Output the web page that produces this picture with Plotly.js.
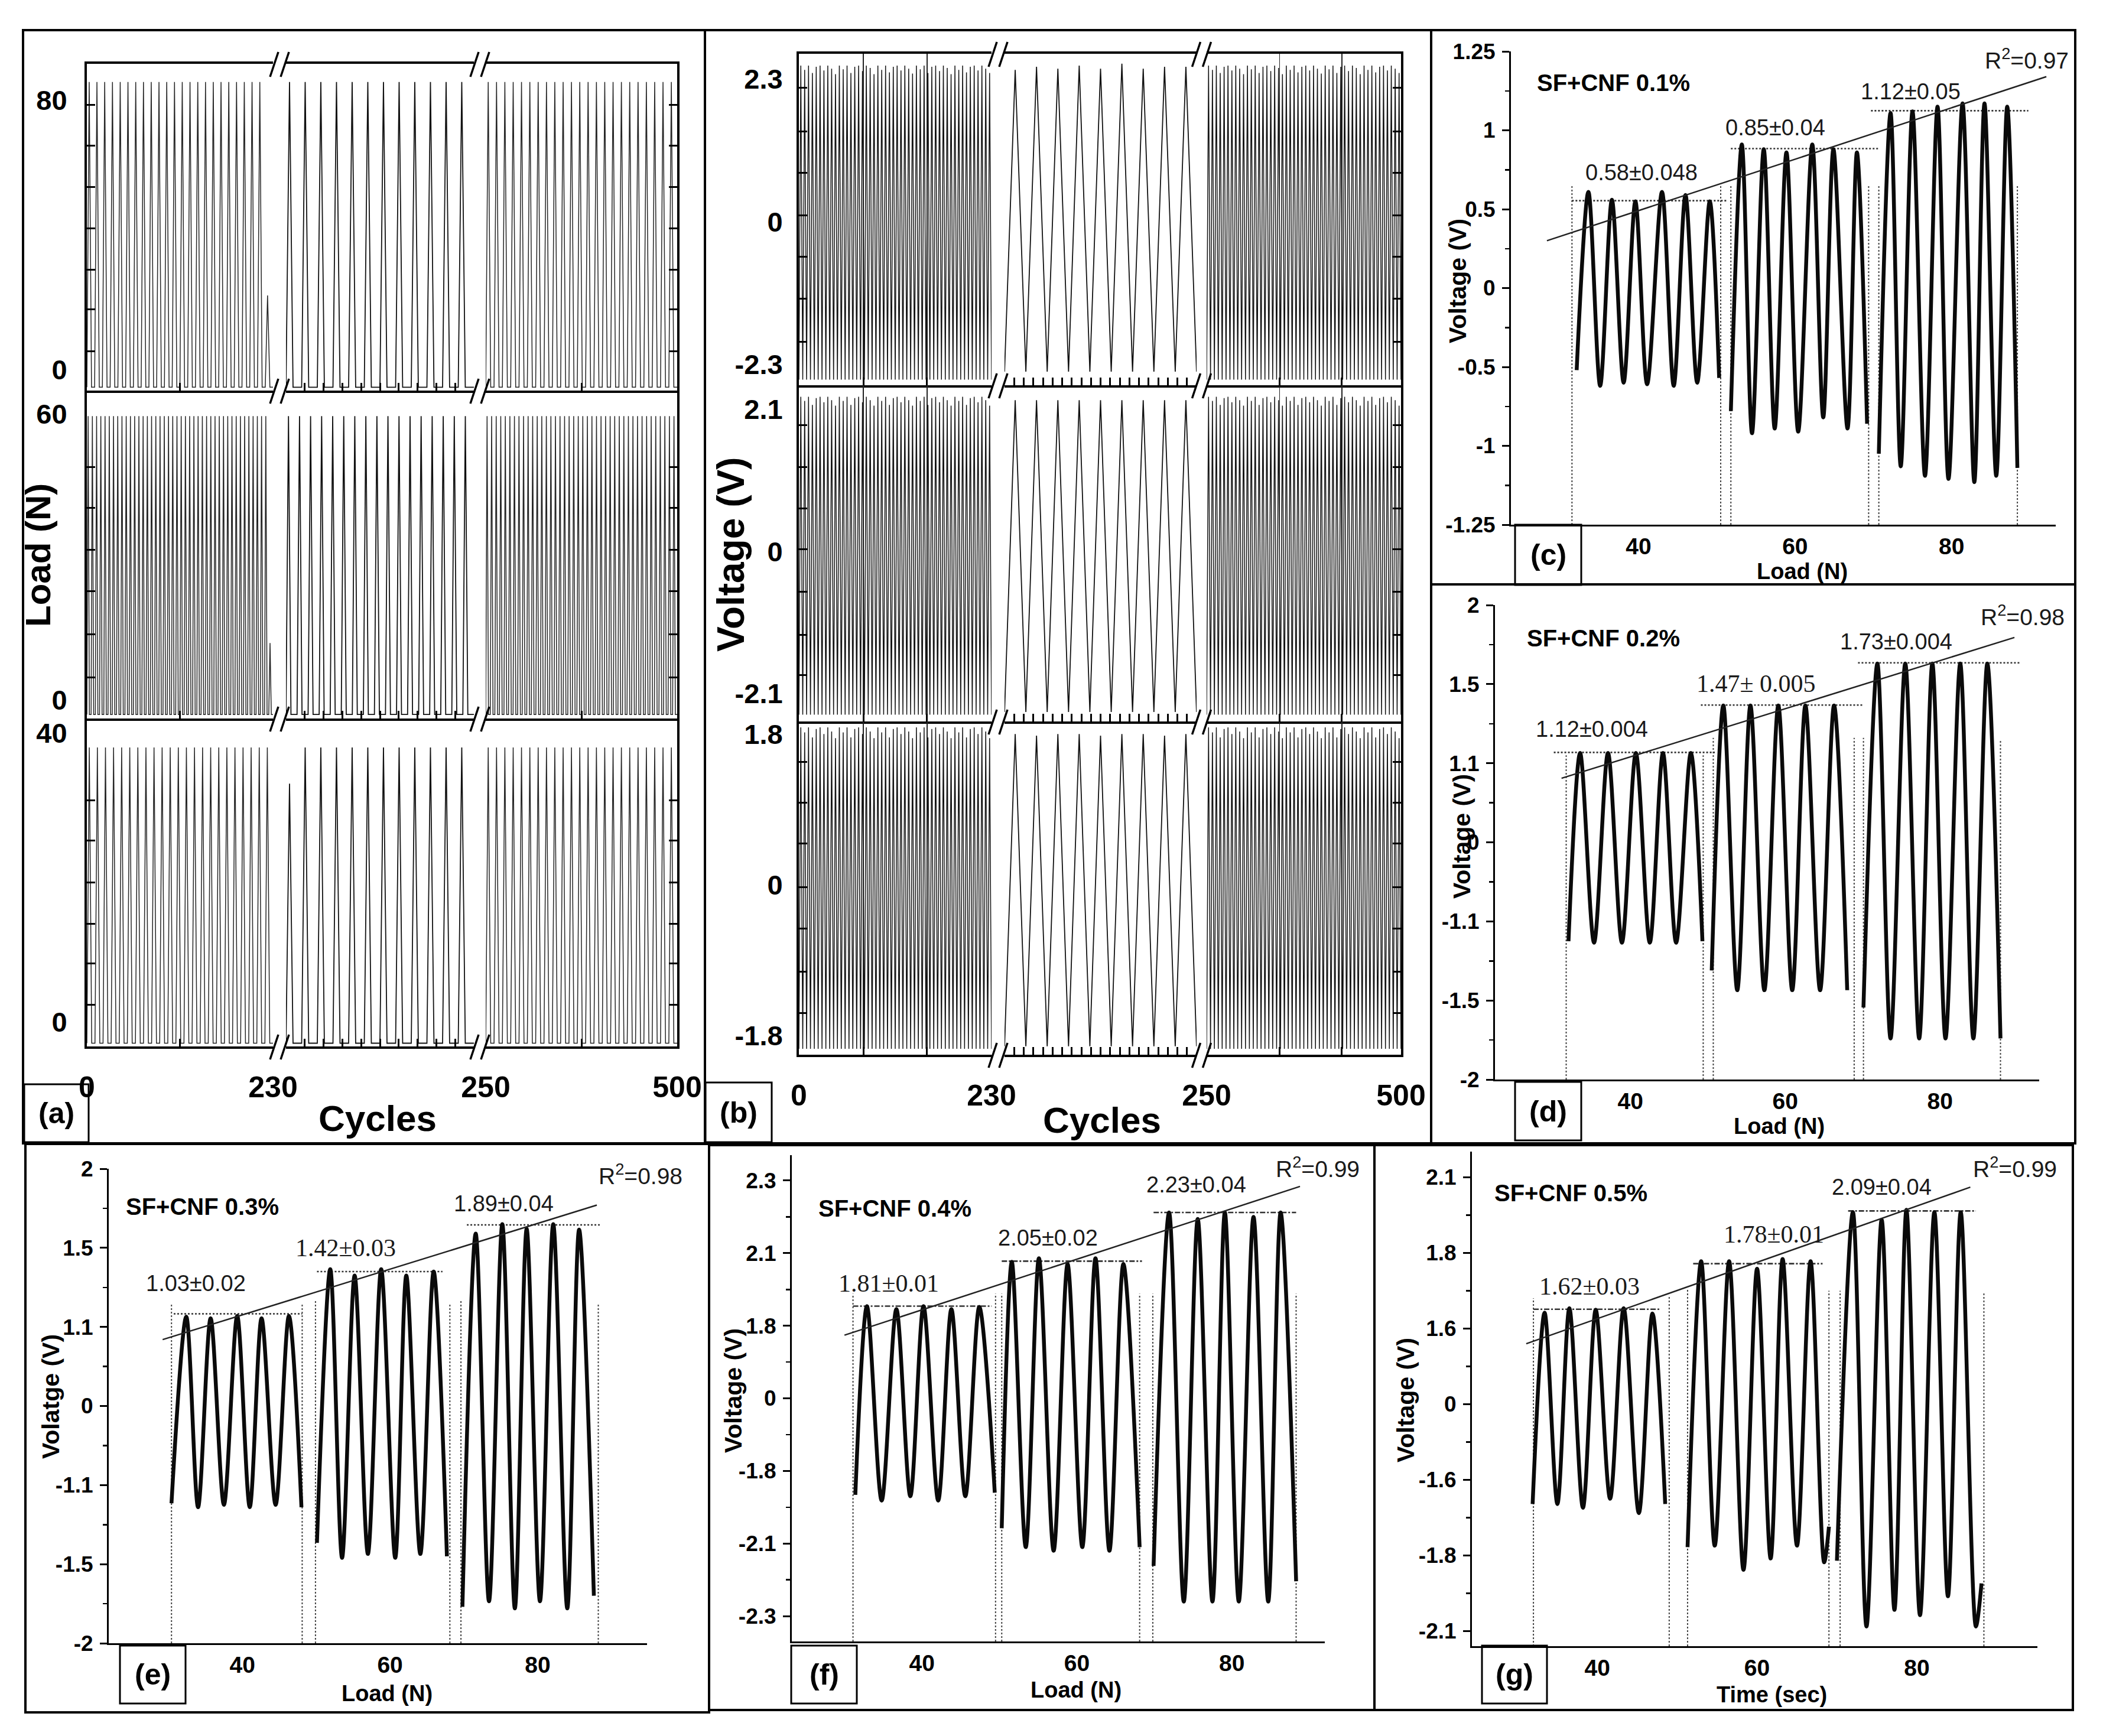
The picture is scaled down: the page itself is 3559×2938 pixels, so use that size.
<!DOCTYPE html>
<html>
<head>
<meta charset="utf-8">
<script src="https://cdn.plot.ly/plotly-3.0.1.min.js"></script>
<style>
  html, body { margin: 0; padding: 0; background: #fff; }
  #chart { width: 3559px; height: 2938px; }
</style>
</head>
<body>
<div id="chart"></div>
<script>
// ---------- (a) load pulses, peak of every pulse (N) ----------
const cycleSegments = [[0, 230], [230, 250], [250, 500]];
const cycleTicks = [[0, 230], [], [250, 500]];
const aLoadTicks = [80, 60, 40];

const a80Left = [85.5,85.5,85.5,85.5,85.5,85.5,85.5,85.5,85.5,85.5, 85.5,85.5,85.5,85.5,85.5,85.5,85.5,85.5,85.5,85.5,
                 85.5,85.5,85.5,22];
const a80Mid = [85.5,85.5,85.5,85.5,85.5,85.5,85.5,85.5,85.5,85.5,85.5,85.5];
const a80Right = [85.5,85.5,85.5,85.5,85.5,85.5,85.5,85.5,85.5,85.5, 85.5,85.5,85.5,85.5,85.5,85.5,85.5,85.5,85.5,85.5,
                  85.5,85.5,85.5];
const a60Left = [59.6,59.6,59.6,59.6,59.6,59.6,59.6,59.6,59.6,59.6, 59.6,59.6,59.6,59.6,59.6,59.6,59.6,59.6,59.6,59.6,
                 59.6,59.6,59.6,59.6,59.6,59.6,59.6,59.6,59.6,59.6, 59.6,59.6,59.6,59.6,59.6,59.6,59.6,59.6,59.6,59.6,
                 59.6,59.6,59.6,12];
const a60Mid = [59.6,59.6,59.6,59.6,59.6,59.6,59.6,59.6,59.6,59.6,59.6,59.6,59.6,59.6,59.6,59.6,59.6];
const a60Right = [59.6,59.6,59.6,59.6,59.6,59.6,59.6,59.6,59.6,59.6, 59.6,59.6,59.6,59.6,59.6,59.6,59.6,59.6,59.6,59.6,
                  59.6,59.6,59.6,59.6,59.6,59.6,59.6,59.6,59.6,59.6, 59.6,59.6,59.6,59.6,59.6,59.6,59.6,59.6,59.6,59.6,
                  59.6,59.6];
const a40Left = [38,38,38,38,38,38,38,38,38,38, 38,38,38,38,38,38,38,38,38,38, 38,38,38];
const a40Mid = [33,38,38,38,38,38,38,38,38,38,38,38];
const a40Right = [38,38,38,38,38,38,38,38,38,38, 38,38,38,38,38,38,38,38,38,38, 38,38,38];
const aTroughs = [-5.3, -3.0, -2.9];

// ---------- (b) voltage pulses (V) ----------
const bVoltTicks = [2.3, 2.1, 1.8];
const b23Left = [2.52,2.45,2.52,2.4,2.5,2.52,2.44,2.52,2.47,2.38, 2.52,2.46,2.52,2.4,2.5,2.52,2.43,2.52,2.48,2.38,
                 2.52,2.45,2.52,2.41,2.5,2.52,2.44,2.52,2.47,2.39, 2.52,2.46,2.52,2.4,2.5,2.52,2.43,2.52,2.48,2.38,
                 2.52,2.45,2.52,2.41,2.5,2.52,2.44,2.52,2.47,2.4];
const b23Mid = [2.45,2.5,2.47,2.52,2.47,2.55,2.47,2.5,2.5];
const b23Right = [2.52,2.45,2.52,2.4,2.5,2.52,2.44,2.52,2.47,2.38, 2.52,2.46,2.52,2.4,2.5,2.52,2.43,2.52,2.48,2.38,
                  2.52,2.45,2.52,2.41,2.5,2.52,2.44,2.52,2.47,2.39, 2.52,2.46,2.52,2.4,2.5,2.52,2.43,2.52,2.48,2.38,
                  2.52,2.45,2.52,2.41,2.5,2.52,2.44,2.52,2.47,2.4];
const b21Left = [2.28,2.22,2.28,2.16,2.26,2.28,2.2,2.28,2.23,2.15, 2.28,2.22,2.28,2.16,2.26,2.28,2.2,2.28,2.23,2.15,
                 2.28,2.22,2.28,2.16,2.26,2.28,2.2,2.28,2.23,2.15, 2.28,2.22,2.28,2.16,2.26,2.28,2.2,2.28,2.23,2.15,
                 2.28,2.22,2.28,2.16,2.26,2.28,2.2,2.28,2.23,2.15];
const b21Mid = [2.23,2.23,2.23,2.23,2.23,2.23,2.23,2.23,2.23];
const b21Right = [2.28,2.22,2.28,2.16,2.26,2.28,2.2,2.28,2.23,2.15, 2.28,2.22,2.28,2.16,2.26,2.28,2.2,2.28,2.23,2.15,
                  2.28,2.22,2.28,2.16,2.26,2.28,2.2,2.28,2.23,2.15, 2.28,2.22,2.28,2.16,2.26,2.28,2.2,2.28,2.23,2.15,
                  2.28,2.22,2.28,2.16,2.26,2.28,2.2,2.28,2.23,2.15];
const b18Left = [1.88,1.82,1.88,1.76,1.86,1.88,1.8,1.88,1.83,1.75, 1.88,1.82,1.88,1.76,1.86,1.88,1.8,1.88,1.83,1.75,
                 1.88,1.82,1.88,1.76,1.86,1.88,1.8,1.88,1.83,1.75, 1.88,1.82,1.88,1.76,1.86,1.88,1.8,1.88,1.83,1.75,
                 1.88,1.82,1.88,1.76,1.86,1.88,1.8,1.88,1.83,1.75];
const b18Mid = [1.8,1.78,1.8,1.8,1.78,1.8,1.8,1.78,1.8];
const b18Right = [1.88,1.82,1.88,1.76,1.86,1.88,1.8,1.88,1.83,1.75, 1.88,1.82,1.88,1.76,1.86,1.88,1.8,1.88,1.83,1.75,
                  1.88,1.82,1.88,1.76,1.86,1.88,1.8,1.88,1.83,1.75, 1.88,1.82,1.88,1.76,1.86,1.88,1.8,1.88,1.83,1.75,
                  1.88,1.82,1.88,1.76,1.86,1.88,1.8,1.88,1.83,1.75];
const b23Troughs = [-2.55, -2.42, -2.55];
const b21Troughs = [-2.41, -2.37, -2.41];
const b18Troughs = [-1.96, -1.93, -1.96];

// ---------- (c)-(g) voltage vs load, three load groups ----------
const loadTicks = [40, 60, 80];

const c1X = [32.1, 33.6, 35.1, 36.6, 38.1, 39.6, 41.1, 43.0, 44.5, 46.0, 47.5, 49.1, 50.3];
const c1Y = [-0.52, 0.61, -0.62, 0.56, -0.60, 0.55, -0.61, 0.61, -0.62, 0.59, -0.60, 0.55, -0.57];
const c2X = [51.8, 53.2, 54.5, 56.0, 57.4, 58.9, 60.4, 62.2, 63.6, 64.9, 66.7, 67.9, 69.2];
const c2Y = [-0.78, 0.91, -0.92, 0.88, -0.89, 0.86, -0.91, 0.91, -0.82, 0.88, -0.89, 0.86, -0.86];
const c3X = [70.7, 72.2, 73.5, 75.0, 76.6, 78.2, 79.6, 81.4, 82.9, 84.2, 85.7, 87.1, 88.4];
const c3Y = [-1.05, 1.11, -1.13, 1.12, -1.19, 1.15, -1.21, 1.17, -1.23, 1.17, -1.19, 1.15, -1.14];
const cFitX = [28.3, 92.1], cFitY = [0.30, 1.34];
const cMeanY = [0.554, 0.884, 1.124], cMeanX0 = [31.5, 51.8, 69.7], cMeanX1 = [51.4, 70.6, 89.8];
const cEdgeX = [31.5, 50.5, 51.8, 69.4, 70.7, 88.4], cEdgeTop = [0.65, 0.65, 0.65, 0.65, 0.65, 0.65];
const cNotes = ['0.58±0.048', '0.85±0.04', '1.12±0.05'];
const cNoteX = [40.4, 57.5, 74.8], cNoteY = [0.734, 1.015, 1.247];
const cTickText = ['-1.25', '-1', '-0.5', '0', '0.5', '1', '1.25'];

const d1X = [32.0, 33.5, 35.3, 37.1, 38.9, 40.7, 42.5, 44.2, 45.9, 47.8, 49.3];
const d1Y = [-1.25, 1.13, -1.27, 1.13, -1.27, 1.13, -1.27, 1.13, -1.27, 1.13, -1.25];
const d2X = [50.5, 52.0, 53.8, 55.5, 57.3, 59.1, 60.9, 62.6, 64.5, 66.3, 68.0];
const d2Y = [-1.62, 1.73, -1.87, 1.73, -1.87, 1.73, -1.87, 1.73, -1.87, 1.73, -1.87];
const d3X = [70.1, 71.9, 73.6, 75.5, 77.3, 79.0, 80.7, 82.6, 84.3, 86.1, 87.8];
const d3Y = [-2.09, 2.26, -2.48, 2.26, -2.48, 2.26, -2.48, 2.26, -2.48, 2.26, -2.48];
const dFitX = [31.1, 89.6], dFitY = [0.81, 2.59];
const dMeanY = [1.137, 1.735, 2.27], dMeanX0 = [30.1, 49.1, 69.4], dMeanX1 = [50.9, 70.0, 90.3];
const dEdgeX = [31.7, 49.4, 50.7, 68.9, 70.1, 87.8], dEdgeTop = [1.1, 1.1, 1.32, 1.32, 1.32, 1.3];
const dNotes = ['1.12±0.004', '1.47± 0.005', '1.73±0.004'];
const dNoteX = [35.0, 56.2, 74.3], dNoteY = [1.43, 2.01, 2.54];
const dTickText = ['-2', '-1.5', '-1.1', '0', '1.1', '1.5', '2'];

const e1X = [30.4, 32.4, 34.0, 35.7, 37.5, 39.3, 41.0, 42.6, 44.5, 46.3, 48.0];
const e1Y = [-1.23, 1.13, -1.28, 1.11, -1.25, 1.14, -1.28, 1.11, -1.25, 1.14, -1.28];
const e2X = [50.1, 51.9, 53.5, 55.2, 57.0, 58.8, 60.7, 62.2, 64.1, 65.9, 67.7];
const e2Y = [-1.73, 1.73, -1.92, 1.65, -1.87, 1.73, -1.92, 1.65, -1.87, 1.70, -1.90];
const e3X = [69.8, 71.6, 73.4, 75.2, 76.9, 78.5, 80.3, 82.1, 84.0, 85.6, 87.6];
const e3Y = [-2.54, 2.18, -2.47, 2.30, -2.56, 2.24, -2.47, 2.30, -2.56, 2.23, -2.40];
const eFitX = [29.2, 88.0], eFitY = [0.84, 2.54];
const eMeanY = [1.166, 1.70, 2.29], eMeanX0 = [30.7, 50.1, 70.4], eMeanX1 = [48.1, 67.1, 88.4];
const eEdgeX = [30.4, 48.1, 49.9, 68.1, 69.6, 88.2], eEdgeTop = [1.3, 1.3, 1.33, 1.3, 1.33, 1.3];
const eNotes = ['1.03±0.02', '1.42±0.03', '1.89±0.04'];
const eNoteX = [33.7, 54.0, 75.4], eNoteY = [1.55, 2.0, 2.56];
const eTickText = ['-2', '-1.5', '-1.1', '0', '1.1', '1.5', '2'];

const f1X = [31.4, 32.9, 34.8, 36.7, 38.5, 40.2, 42.1, 43.8, 45.6, 47.4, 49.4];
const f1Y = [-1.33, 1.27, -1.41, 1.23, -1.35, 1.27, -1.41, 1.23, -1.35, 1.26, -1.30];
const f2X = [50.3, 51.6, 53.4, 55.1, 57.0, 58.8, 60.7, 62.4, 64.2, 66.0, 68.1];
const f2Y = [-1.79, 1.88, -2.05, 1.93, -2.10, 1.85, -2.05, 1.93, -2.10, 1.85, -2.05];
const f3X = [69.9, 71.9, 73.8, 75.6, 77.5, 79.1, 80.9, 82.8, 84.7, 86.3, 88.3];
const f3Y = [-2.31, 2.56, -2.80, 2.47, -2.80, 2.56, -2.80, 2.50, -2.80, 2.56, -2.52];
const fFitX = [30.0, 88.8], fFitY = [0.87, 2.92];
const fMeanY = [1.27, 1.89, 2.56], fMeanX0 = [31.1, 50.3, 69.9], fMeanX1 = [49.0, 68.4, 88.3];
const fEdgeX = [31.1, 49.5, 50.3, 68.1, 69.8, 88.3], fEdgeTop = [1.44, 1.44, 1.44, 1.44, 1.44, 1.44];
const fNotes = ['1.81±0.01', '2.05±0.02', '2.23±0.04'];
const fNoteX = [35.7, 56.3, 75.4], fNoteY = [1.58, 2.21, 2.94];
const fTickText = ['-2.3', '-2.1', '-1.8', '0', '1.8', '2.1', '2.3'];

const g1X = [31.9, 33.4, 35.0, 36.5, 38.2, 39.8, 41.6, 43.3, 45.2, 46.9, 48.5];
const g1Y = [-1.32, 1.21, -1.32, 1.27, -1.37, 1.25, -1.25, 1.27, -1.44, 1.20, -1.32];
const g2X = [51.3, 53.0, 54.7, 56.5, 58.3, 60.0, 61.7, 63.2, 65.0, 66.7, 68.4, 69.0];
const g2Y = [-1.89, 1.89, -1.87, 1.89, -2.19, 1.79, -2.04, 1.92, -1.87, 1.89, -2.09, -1.62];
const g3X = [70.0, 72.0, 73.7, 75.6, 77.2, 78.7, 80.4, 82.2, 83.9, 85.5, 87.4, 88.1];
const g3Y = [-2.07, 2.54, -2.94, 2.44, -2.72, 2.57, -2.79, 2.54, -2.54, 2.54, -2.94, -2.37];
const gFitX = [31.1, 86.7], gFitY = [0.80, 2.87];
const gMeanY = [1.256, 1.858, 2.556], gMeanX0 = [32.0, 52.0, 71.4], gMeanX1 = [47.9, 68.2, 87.4];
const gEdgeX = [32.0, 49.0, 51.3, 69.0, 70.4, 88.4], gEdgeTop = [1.40, 1.43, 1.52, 1.50, 1.50, 1.47];
const gNotes = ['1.62±0.03', '1.78±0.01', '2.09±0.04'];
const gNoteX = [39.0, 62.1, 75.6], gNoteY = [1.56, 2.25, 2.875];
const gTickText = ['-2.1', '-1.8', '-1.6', '0', '1.6', '1.8', '2.1'];

// ---------- page geometry ----------
const W = 3559, H = 2938;
const px = v => v / W;
const py = v => 1 - v / H;
const SANS = 'Liberation Sans, Arial, Helvetica, sans-serif';
const SERIF = 'Liberation Serif, Times New Roman, serif';
const INK = '#000';

const traces = [];
const layout = {
  width: W, height: H,
  margin: {l: 0, r: 0, t: 0, b: 0},
  paper_bgcolor: '#fff', plot_bgcolor: 'rgba(0,0,0,0)',
  showlegend: false,
  shapes: [], annotations: []
};

let nAx = 0;
function addCell(xa, ya) {
  nAx++;
  const k = nAx === 1 ? '' : String(nAx);
  layout['xaxis' + k] = Object.assign({anchor: 'y' + k, zeroline: false, showgrid: false, fixedrange: true}, xa);
  layout['yaxis' + k] = Object.assign({anchor: 'x' + k, zeroline: false, showgrid: false, fixedrange: true}, ya);
  return {x: 'x' + k, y: 'y' + k};
}

function text(str, x, y, size, opts) {
  layout.annotations.push(Object.assign({
    text: str, x: px(x), y: py(y), xref: 'paper', yref: 'paper',
    showarrow: false, xanchor: 'center', yanchor: 'middle',
    font: {family: SANS, size: size, color: INK}
  }, opts || {}));
}
function box(x0, y0, x1, y1, w) {
  layout.shapes.push({type: 'rect', xref: 'paper', yref: 'paper',
    x0: px(x0), x1: px(x1), y0: py(y1), y1: py(y0), line: {color: INK, width: w || 3}});
}

// pulse train: each pulse rises to its peak and falls back within `duty` of its slot
function pulseTrain(seg, peaks, trough, duty) {
  const step = (seg[1] - seg[0]) / peaks.length;
  const xs = [], ys = [];
  peaks.forEach((p, i) => {
    const x0 = seg[0] + i * step;
    xs.push(x0, x0 + duty * step / 2);
    ys.push(trough, p);
    if (duty < 1) { xs.push(x0 + duty * step); ys.push(trough); }
  });
  xs.push(seg[1]); ys.push(trough);
  return {xs, ys};
}

// ---------- broken-axis panels (a) and (b) ----------
function brokenPanel(p) {
  p.rows.forEach((row, r) => {
    const last = r === p.rows.length - 1;
    p.segPx.forEach((seg, s) => {
      const hasX = last && cycleTicks[s].length > 0;
      const cell = addCell({
        domain: [px(seg[0]), px(seg[1])],
        range: cycleSegments[s],
        showline: true, linecolor: INK, linewidth: 4,
        mirror: r === 0,
        ticks: '', tickmode: 'array', tickvals: cycleTicks[s], ticktext: cycleTicks[s].map(String),
        showticklabels: hasX,
        tickfont: {family: SANS, size: 50, color: INK, weight: 'bold'},
        ticklabelstandoff: 22,
        minor: {tickmode: 'array', tickvals: p.xMinor[s], ticks: 'inside', ticklen: 13, tickwidth: 3, tickcolor: INK,
                showgrid: !!p.xGrid[s], gridcolor: '#222', gridwidth: 1.6}
      }, {
        domain: [py(p.rowPx[r][1]), py(p.rowPx[r][0])],
        range: row.range,
        showline: s !== 1, linecolor: INK, linewidth: 4,
        side: s === 2 ? 'right' : 'left',
        ticks: '', tickmode: 'array', tickvals: row.ticks, ticktext: row.tickText,
        showticklabels: s === 0,
        tickfont: {family: SANS, size: 47, color: INK, weight: 'bold'},
        ticklabelstandoff: p.yStandoff,
        minor: s === 1 ? {ticks: ''} :
          {tickmode: 'array', tickvals: row.minor, ticks: 'inside', ticklen: 14, tickwidth: 3, tickcolor: INK}
      });
      const w = pulseTrain(cycleSegments[s], row.peaks[s], row.troughs[s], p.duty[s]);
      traces.push({x: w.xs, y: w.ys, xaxis: cell.x, yaxis: cell.y, type: 'scatter', mode: 'lines',
        hoverinfo: 'skip', line: {color: s === 1 ? '#111' : p.denseColor, width: s === 1 ? 1.8 : p.denseWidth}});
    });
    // "//" break marks on bottom line (and top line of first row)
    const ys = r === 0 ? [p.rowPx[r][0], p.rowPx[r][1]] : [p.rowPx[r][1]];
    [0, 1].forEach(b => {
      const gx = (p.segPx[b][1] + p.segPx[b + 1][0]) / 2;
      ys.forEach(yy => {
        [-9, 9].forEach(dx => {
          layout.shapes.push({type: 'line', xref: 'paper', yref: 'paper',
            x0: px(gx + dx - 7), y0: py(yy + 22), x1: px(gx + dx + 7), y1: py(yy - 20),
            line: {color: INK, width: 3.5}});
        });
      });
    });
  });
}

brokenPanel({
  segPx: [[147, 462], [484, 802], [822, 1146]],
  rowPx: [[108, 661], [661, 1216], [1216, 1771]],
  yStandoff: 20, denseColor: '#262626', denseWidth: 1.5, duty: [0.6, 0.45, 0.6],
  xMinor: [[115], [232, 234, 236, 238, 240, 242, 244, 246, 248], [375]],
  xGrid: [false, false, false],
  rows: [
    {peaks: [a80Left, a80Mid, a80Right], troughs: [aTroughs[0], aTroughs[0], aTroughs[0]], range: [-6.3, 90.9],
     ticks: [0, aLoadTicks[0]], tickText: ['0', String(aLoadTicks[0])], minor: [5.4, 17.8, 29.7, 42, 54.3, 66.6, 78.6]},
    {peaks: [a60Left, a60Mid, a60Right], troughs: [aTroughs[1], aTroughs[1], aTroughs[1]], range: [-3.84, 64.96],
     ticks: [0, aLoadTicks[1]], tickText: ['0', String(aLoadTicks[1])], minor: [4.8, 13.8, 22.9, 31.6, 40.3, 48.9]},
    {peaks: [a40Left, a40Mid, a40Right], troughs: [aTroughs[2], aTroughs[2], aTroughs[2]], range: [-3.35, 42],
     ticks: [0, aLoadTicks[2]], tickText: ['0', String(aLoadTicks[2])], minor: [2.4, 8.1, 13.6, 19.3, 25.1, 30.7]}
  ]
});

brokenPanel({
  segPx: [[1352, 1678], [1700, 2025], [2042, 2371]],
  rowPx: [[91, 652], [652, 1221], [1221, 1785]],
  yStandoff: 14, denseColor: '#141414', denseWidth: 1.5, duty: [1, 1, 1],
  xMinor: [[77, 153], [231, 232, 233, 234, 235, 236, 237, 238, 239, 240, 241, 242, 243, 244, 245, 246, 247, 248, 249], [344, 424]],
  xGrid: [true, false, true],
  rows: [
    {peaks: [b23Left, b23Mid, b23Right], troughs: b23Troughs, range: [-2.64, 2.71],
     ticks: [-bVoltTicks[0], 0, bVoltTicks[0]], tickText: ['-' + bVoltTicks[0], '0', String(bVoltTicks[0])],
     minor: [-1.94, -1.24, -0.57, 0.1, 0.79, 1.46, 2.16]},
    {peaks: [b21Left, b21Mid, b21Right], troughs: b21Troughs, range: [-2.51, 2.45],
     ticks: [-bVoltTicks[1], 0, bVoltTicks[1]], tickText: ['-' + bVoltTicks[1], '0', String(bVoltTicks[1])],
     minor: [-1.83, -1.23, -0.6, 0.03, 0.63, 1.24, 1.86]},
    {peaks: [b18Left, b18Mid, b18Right], troughs: b18Troughs, range: [-2.03, 1.95],
     ticks: [-bVoltTicks[2], 0, bVoltTicks[2]], tickText: ['-' + bVoltTicks[2], '0', String(bVoltTicks[2])],
     minor: [-1.53, -1.04, -0.52, -0.03, 0.49, 0.98, 1.47]}
  ]
});

// ---------- voltage vs load panels (c)-(g) ----------
function loadPanel(p) {
  const cell = addCell({
    domain: [px(p.xPx[0]), px(p.xPx[1])], range: p.xRange,
    showline: true, linecolor: INK, linewidth: 3,
    ticks: '', tickmode: 'array', tickvals: loadTicks,
    tickfont: {family: SANS, size: 39, color: INK, weight: 'bold'}, ticklabelstandoff: 0
  }, {
    domain: [py(p.yPx[1]), py(p.yPx[0])], range: p.yRange,
    showline: true, linecolor: INK, linewidth: 3,
    ticks: 'outside', ticklen: 12, tickwidth: 3, tickcolor: INK,
    tickmode: 'array', tickvals: p.tickVals, ticktext: p.tickText,
    tickfont: {family: SANS, size: 37, color: INK, weight: 'bold'}, ticklabelstandoff: 4,
    minor: {tickmode: 'array', tickvals: p.minorVals, ticks: 'outside', ticklen: 7, tickwidth: 2.5, tickcolor: INK}
  });
  const base = {xaxis: cell.x, yaxis: cell.y, type: 'scatter', mode: 'lines', hoverinfo: 'skip', cliponaxis: false};
  // group boundary verticals
  const vx = [], vy = [];
  p.edgeX.forEach((x, i) => { vx.push(x, x, null); vy.push(p.yRange[0], p.edgeTop[i], null); });
  traces.push(Object.assign({x: vx, y: vy, line: {color: '#444', width: 2, dash: 'dot'}}, base));
  // mean peak levels
  const hx = [], hy = [];
  p.meanY.forEach((y, i) => { hx.push(p.meanX0[i], p.meanX1[i], null); hy.push(y, y, null); });
  traces.push(Object.assign({x: hx, y: hy, line: {color: '#333', width: 2.6, dash: p.meanDash}}, base));
  // signal
  p.groups.forEach(g => {
    traces.push(Object.assign({x: g[0], y: g[1], line: {color: '#0a0a0a', width: 6.5, shape: 'spline', smoothing: 0.9}}, base));
  });
  // linear fit
  traces.push(Object.assign({x: p.fitX, y: p.fitY, line: {color: '#222', width: 2.5}}, base));
  // texts in data space
  p.notes.forEach((t, i) => {
    layout.annotations.push({text: t, x: p.noteX[i], y: p.noteY[i], xref: cell.x, yref: cell.y,
      showarrow: false, xanchor: 'center', yanchor: 'middle',
      font: {family: p.noteFont[i] === 'serif' ? SERIF : SANS, size: p.noteFont[i] === 'serif' ? 42 : 38, color: '#1a1a1a'}});
  });
  layout.annotations.push({text: '<b>' + p.name + '</b>', x: p.namePos[0], y: p.namePos[1], xref: cell.x, yref: cell.y,
    showarrow: false, xanchor: 'center', yanchor: 'middle', font: {family: SANS, size: 40, color: INK}});
  text('R<sup>2</sup>=' + p.r2, p.r2Px[0], p.r2Px[1], 39, {xanchor: 'right', font: {family: SANS, size: 39, color: '#1a1a1a'}});
  text('<b>' + p.yTitle + '</b>', p.yTitlePx[0], p.yTitlePx[1], 41, {textangle: -90});
  text('<b>' + p.xTitle + '</b>', p.xTitlePx[0], p.xTitlePx[1], 38);
}

const idxTicks = [-3, -2, -1, 0, 1, 2, 3];
const idxMinor = [-2.5, -1.5, -0.5, 0.5, 1.5, 2.5];

loadPanel({xPx: [2557, 3479], yPx: [87, 888], xRange: [23.7, 93.3], yRange: [-1.5, 1.5],
  tickVals: [-1.5, -1, -0.5, 0, 0.5, 1, 1.5], tickText: cTickText, minorVals: [-1.25, -0.75, -0.25, 0.25, 0.75, 1.25],
  groups: [[c1X, c1Y], [c2X, c2Y], [c3X, c3Y]], fitX: cFitX, fitY: cFitY,
  meanY: cMeanY, meanX0: cMeanX0, meanX1: cMeanX1, meanDash: 'dot', edgeX: cEdgeX, edgeTop: cEdgeTop,
  notes: cNotes, noteX: cNoteX, noteY: cNoteY, noteFont: ['sans', 'sans', 'sans'],
  name: 'SF+CNF 0.1%', namePos: [36.8, 1.30], r2: '0.97', r2Px: [3503, 100],
  yTitle: 'Voltage (V)', yTitlePx: [2467, 476], xTitle: 'Load (N)', xTitlePx: [3050, 967]});

loadPanel({xPx: [2530, 3451], yPx: [1024, 1827], xRange: [22.5, 92.8], yRange: [-3, 3],
  tickVals: idxTicks, tickText: dTickText, minorVals: idxMinor,
  groups: [[d1X, d1Y], [d2X, d2Y], [d3X, d3Y]], fitX: dFitX, fitY: dFitY,
  meanY: dMeanY, meanX0: dMeanX0, meanX1: dMeanX1, meanDash: 'dot', edgeX: dEdgeX, edgeTop: dEdgeTop,
  notes: dNotes, noteX: dNoteX, noteY: dNoteY, noteFont: ['sans', 'serif', 'sans'],
  name: 'SF+CNF 0.2%', namePos: [36.5, 2.58], r2: '0.98', r2Px: [3496, 1041],
  yTitle: 'Voltage (V)', yTitlePx: [2474, 1416], xTitle: 'Load (N)', xTitlePx: [3011, 1906]});

loadPanel({xPx: [184, 1095], yPx: [1978, 2781], xRange: [21.9, 94.8], yRange: [-3, 3],
  tickVals: idxTicks, tickText: eTickText, minorVals: idxMinor,
  groups: [[e1X, e1Y], [e2X, e2Y], [e3X, e3Y]], fitX: eFitX, fitY: eFitY,
  meanY: eMeanY, meanX0: eMeanX0, meanX1: eMeanX1, meanDash: 'dot', edgeX: eEdgeX, edgeTop: eEdgeTop,
  notes: eNotes, noteX: eNoteX, noteY: eNoteY, noteFont: ['sans', 'serif', 'sans'],
  name: 'SF+CNF 0.3%', namePos: [34.6, 2.52], r2: '0.98', r2Px: [1157, 1987],
  yTitle: 'Volatge (V)', yTitlePx: [86, 2364], xTitle: 'Load (N)', xTitlePx: [655, 2866]});

loadPanel({xPx: [1340, 2242], yPx: [1955, 2778], xRange: [23.2, 92.0], yRange: [-3.35, 3.35],
  tickVals: idxTicks, tickText: fTickText, minorVals: idxMinor,
  groups: [[f1X, f1Y], [f2X, f2Y], [f3X, f3Y]], fitX: fFitX, fitY: fFitY,
  meanY: fMeanY, meanX0: fMeanX0, meanX1: fMeanX1, meanDash: 'dashdot', edgeX: fEdgeX, edgeTop: fEdgeTop,
  notes: fNotes, noteX: fNoteX, noteY: fNoteY, noteFont: ['serif', 'sans', 'sans'],
  name: 'SF+CNF 0.4%', namePos: [36.5, 2.62], r2: '0.99', r2Px: [2303, 1975],
  yTitle: 'Voltage (V)', yTitlePx: [1241, 2354], xTitle: 'Load (N)', xTitlePx: [1821, 2860]});

loadPanel({xPx: [2491, 3448], yPx: [1949, 2786], xRange: [24.3, 95.1], yRange: [-3.2, 3.34],
  tickVals: idxTicks, tickText: gTickText, minorVals: idxMinor,
  groups: [[g1X, g1Y], [g2X, g2Y], [g3X, g3Y]], fitX: gFitX, fitY: gFitY,
  meanY: gMeanY, meanX0: gMeanX0, meanX1: gMeanX1, meanDash: 'dashdot', edgeX: gEdgeX, edgeTop: gEdgeTop,
  notes: gNotes, noteX: gNoteX, noteY: gNoteY, noteFont: ['serif', 'serif', 'sans'],
  name: 'SF+CNF 0.5%', namePos: [36.7, 2.79], r2: '0.99', r2Px: [3483, 1975],
  yTitle: 'Voltage (V)', yTitlePx: [2379, 2370], xTitle: 'Time (sec)', xTitlePx: [2998, 2868]});

// ---------- titles of (a), (b) ----------
text('<b>Load (N)</b>', 64, 940, 60, {textangle: -90});
text('<b>Cycles</b>', 639, 1893, 62);
text('<b>Voltage (V)</b>', 1237, 938, 64, {textangle: -90});
text('<b>Cycles</b>', 1865, 1895, 62);

// ---------- panel frames and letter boxes ----------
box(39, 51, 1193, 1935, 4);
box(1193, 51, 2422, 1935, 4);
box(2422, 51, 3512, 989, 4);
box(2422, 989, 3512, 1935, 4);
box(43, 1936, 1200, 2898, 4);
box(1200, 1938, 2326, 2894, 4);
box(2326, 1938, 3508, 2894, 4);

const letterBoxes = [
  ['(a)', 41, 1835, 150, 1933], ['(b)', 1194, 1832, 1306, 1933],
  ['(c)', 2564, 888, 2676, 990], ['(d)', 2564, 1831, 2676, 1930],
  ['(e)', 203, 2785, 314, 2883], ['(f)', 1339, 2785, 1450, 2883], ['(g)', 2508, 2785, 2618, 2883]
];
letterBoxes.forEach(b => {
  box(b[1], b[2], b[3], b[4], 3);
  text('<b>' + b[0] + '</b>', (b[1] + b[3]) / 2, (b[2] + b[4]) / 2, 50);
});

Plotly.newPlot('chart', traces, layout, {staticPlot: true, displayModeBar: false});
</script>
</body>
</html>
